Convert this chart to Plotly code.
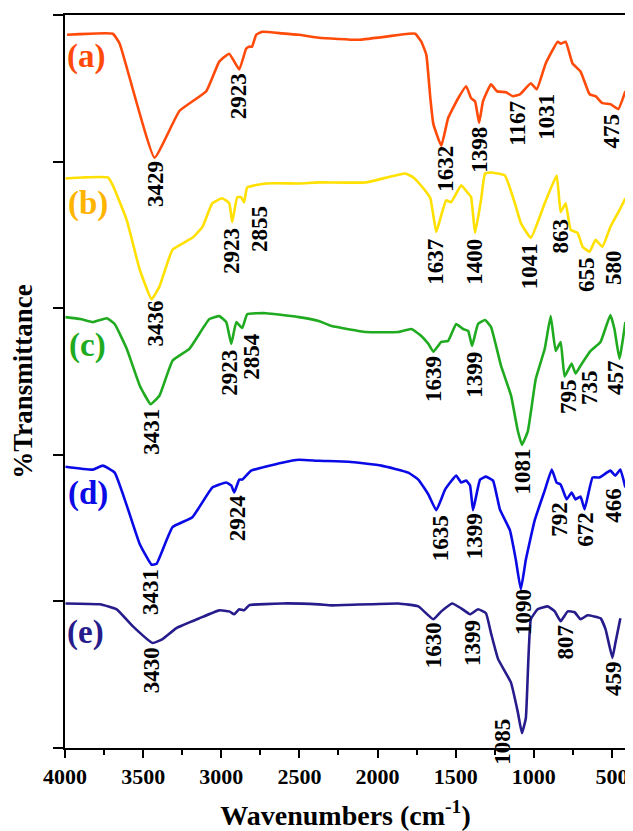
import plotly.graph_objects as go

# ---------------- data ----------------
wn_a = [3987, 3694, 3650, 3427, 3268, 3096, 3013, 2949, 2885, 2841, 2822, 2803, 2777, 2739, 2611, 2503, 2376,
        2121, 1803, 1758, 1720, 1688, 1662, 1643, 1592, 1548, 1484, 1433, 1401, 1376, 1350, 1325, 1274, 1236,
        1178, 1134, 1089, 1019, 981, 924, 847, 828, 796, 752, 701, 643, 605, 561, 510, 459, 414]
t_a = [486.5, 487.2, 480.4, 402.7, 434.5, 448.0, 468.2, 473.6, 462.8, 477.0, 478.4, 478.4, 486.5, 488.5, 487.5,
       486.5, 484.5, 483.1, 487.2, 487.2, 481.8, 473.0, 443.2, 425.7, 410.8, 429.7, 443.2, 451.4, 443.2, 441.2,
       426.4, 441.2, 452.7, 448.0, 447.3, 444.6, 445.9, 453.4, 449.3, 466.9, 481.8, 480.4, 481.8, 466.9, 461.5,
       445.9, 444.6, 439.9, 439.2, 435.8, 448.0]

wn_b = [3997, 3885, 3726, 3694, 3605, 3522, 3446, 3395, 3312, 3185, 3121, 3057, 2994, 2949, 2930, 2898, 2873,
        2854, 2834, 2713, 2503, 2376, 2076, 1822, 1771, 1707, 1662, 1624, 1592, 1561, 1529, 1465, 1420, 1401,
        1376, 1338, 1312, 1274, 1185, 1121, 1083, 1019, 930, 854, 828, 796, 764, 720, 688, 643, 605, 561, 510,
        452, 414]
t_b = [388.5, 389.2, 389.2, 383.8, 360.1, 326.4, 306.1, 314.9, 339.9, 348.0, 355.4, 371.6, 375.0, 371.6, 358.8,
       375.7, 375.7, 372.3, 382.4, 385.1, 385.1, 385.8, 385.8, 391.9, 389.2, 381.8, 375.0, 352.0, 363.5, 373.6,
       372.3, 383.8, 378.4, 375.7, 351.4, 373.6, 391.9, 392.6, 390.5, 371.6, 358.1, 348.0, 371.6, 390.5, 365.5,
       371.6, 353.4, 351.4, 341.9, 338.5, 346.6, 341.9, 355.4, 366.9, 375.0]

wn_c = [3997, 3901, 3822, 3732, 3682, 3605, 3522, 3452, 3395, 3312, 3204, 3076, 3013, 2968, 2936, 2904, 2866,
        2834, 2713, 2503, 2376, 2293, 2076, 1866, 1783, 1720, 1675, 1643, 1592, 1548, 1497, 1452, 1420, 1395,
        1357, 1312, 1274, 1210, 1146, 1102, 1076, 1038, 987, 930, 892, 860, 828, 803, 758, 733, 701, 637, 573,
        510, 484, 452, 414]
t_c = [293.9, 292.6, 290.5, 293.2, 289.2, 272.3, 247.3, 234.5, 240.5, 264.2, 272.3, 292.6, 294.6, 290.5, 275.7,
       290.5, 286.5, 295.9, 296.6, 293.9, 291.2, 287.8, 283.8, 283.8, 285.8, 281.1, 275.7, 270.3, 277.0, 277.7,
       289.2, 285.8, 284.5, 274.3, 289.2, 291.9, 287.2, 260.8, 240.5, 216.2, 206.8, 216.2, 252.0, 272.3, 294.6,
       270.9, 277.0, 253.4, 262.2, 255.4, 260.8, 270.9, 277.0, 295.3, 285.8, 265.5, 290.5]

wn_d = [3997, 3822, 3758, 3682, 3605, 3522, 3446, 3414, 3312, 3185, 3057, 2968, 2936, 2917, 2885, 2866, 2847,
        2809, 2611, 2503, 2376, 2185, 1975, 1803, 1739, 1675, 1624, 1567, 1497, 1465, 1433, 1408, 1389, 1344,
        1306, 1261, 1217, 1153, 1115, 1083, 1051, 994, 930, 885, 854, 828, 790, 758, 733, 701, 675, 624, 580,
        510, 478, 446, 414]
t_d = [191.9, 189.9, 192.6, 187.8, 165.5, 139.2, 125.0, 125.7, 150.7, 157.4, 177.7, 181.1, 179.1, 174.3, 183.1,
       183.1, 185.1, 189.2, 194.6, 196.6, 195.9, 195.3, 192.6, 187.8, 183.1, 173.0, 162.2, 176.4, 185.8, 181.1,
       182.4, 179.1, 162.2, 183.1, 185.1, 182.4, 162.8, 148.6, 128.4, 108.1, 128.4, 155.4, 175.7, 189.9, 181.1,
       179.7, 169.6, 174.3, 169.6, 171.6, 162.8, 184.5, 184.5, 189.2, 185.8, 189.9, 177.7]

wn_e = [3997, 3777, 3669, 3567, 3439, 3376, 3287, 3140, 3013, 2949, 2917, 2885, 2854, 2822, 2611, 2376, 2293,
        1866, 1739, 1643, 1592, 1522, 1465, 1408, 1357, 1306, 1274, 1229, 1146, 1102, 1076, 1051, 1019, 975,
        911, 866, 828, 783, 739, 701, 656, 573, 541, 497, 478, 446]
t_e = [98.6, 98.0, 94.6, 83.1, 71.6, 74.3, 81.8, 88.5, 93.9, 93.2, 91.2, 94.6, 93.9, 97.3, 98.6, 98.0, 97.3,
       98.6, 96.6, 87.8, 93.2, 98.6, 95.3, 91.2, 94.6, 91.9, 78.4, 60.8, 44.6, 24.3, 10.1, 20.3, 87.8, 94.6,
       96.6, 93.2, 86.5, 93.2, 92.6, 87.8, 90.5, 88.5, 81.1, 61.5, 71.6, 88.5]

series_names = ["(a)", "(b)", "(c)", "(d)", "(e)"]

# peak labels: (text, label wavenumber position, label level)
peaks_a = [("3429", 3420, 384.5), ("2923", 2892, 444.6), ("1632", 1567, 395.3), ("1398", 1344, 408.1),
           ("1167", 1102, 426.4), ("1031", 924, 430.4), ("475", 503, 420.9)]
peaks_b = [("3436", 3427, 289.2), ("2923", 2936, 339.2), ("2855", 2752, 354.1), ("1637", 1631, 331.8),
           ("1400", 1382, 331.8), ("1041", 1026, 328.4), ("863", 828, 349.3), ("655", 663, 323.0),
           ("580", 491, 327.7)]
peaks_c = [("3431", 3446, 215.5), ("2923", 2949, 256.1), ("2854", 2803, 266.9), ("1639", 1643, 252.0),
           ("1399", 1382, 254.7), ("1081", 1070, 188.5), ("795", 777, 239.9), ("735", 644, 245.9),
           ("457", 478, 252.7)]
peaks_d = [("3431", 3452, 106.1), ("2924", 2898, 156.8), ("1635", 1599, 143.2), ("1399", 1382, 144.6),
           ("1090", 1070, 92.6), ("792", 835, 156.1), ("672", 669, 149.3), ("466", 491, 165.5)]
peaks_e = [("3430", 3446, 52.7), ("1630", 1637, 70.3), ("1399", 1395, 71.6), ("1085", 1198, 4.1),
           ("807", 803, 72.3), ("459", 491, 47.3)]

name_pos = [(3866, 471.6), (3854, 371.6), (3854, 274.3), (3854, 173.6), (3866, 79.1)]

x_ticks = [4000, 3500, 3000, 2500, 2000, 1500, 1000, 500]
y_ticks = [0, 100, 200, 300, 400, 500]

# ---------------- styling ----------------
line_colors = ["#FF4A0A", "#FFE000", "#1FAA1F", "#0A0AE6", "#271C8C"]
name_colors = ["#FF4A0A", "#FFB400", "#1FAA1F", "#0A0AE6", "#271C8C"]
FONT = "Liberation Serif, Times New Roman, serif"

fig = go.Figure()
curves = [(wn_a, t_a), (wn_b, t_b), (wn_c, t_c), (wn_d, t_d), (wn_e, t_e)]
for (xs, ys), col, nm in zip(curves, line_colors, series_names):
    fig.add_trace(go.Scatter(x=xs, y=ys, mode="lines", name=nm,
                             line=dict(color=col, width=2.6, shape="spline", smoothing=0.35),
                             showlegend=False, hoverinfo="skip"))

annotations = []
for peaks in [peaks_a, peaks_b, peaks_c, peaks_d, peaks_e]:
    for txt, xp, yp in peaks:
        annotations.append(dict(x=xp, y=yp, xref="x", yref="y", text="<b>%s</b>" % txt,
                                showarrow=False, textangle=-90, xanchor="center", yanchor="middle",
                                font=dict(family=FONT, size=23, color="black")))
for nm, (xp, yp), col in zip(series_names, name_pos, name_colors):
    annotations.append(dict(x=xp, y=yp, xref="x", yref="y", text="<b>%s</b>" % nm,
                            showarrow=False, xanchor="center", yanchor="middle",
                            font=dict(family=FONT, size=33, color=col)))

# page body has an 8px margin, so the figure is sized/offset to land on the reference layout
fig.update_layout(
    width=625, height=823,
    margin=dict(l=57, r=5, t=5, b=78),
    paper_bgcolor="white", plot_bgcolor="white",
    annotations=annotations,
    font=dict(family=FONT, color="black"),
)
fig.update_xaxes(
    range=[4000, 410], tickvals=x_ticks, ticktext=["<b>%d</b>" % v for v in x_ticks],
    ticks="outside", ticklen=8, tickwidth=1.5, tickcolor="black",
    minor=dict(dtick=250, tick0=0, ticks="outside", ticklen=5, tickwidth=1.5, tickcolor="black"),
    showline=True, linecolor="black", linewidth=1.5, mirror=True,
    showgrid=False, zeroline=False,
    tickfont=dict(family=FONT, size=22, color="black"),
    title=dict(text="<b>Wavenumbers (cm<sup>-1</sup>)</b>", font=dict(family=FONT, size=28, color="black"),
               standoff=17),
)
fig.update_yaxes(
    range=[0, 500], tickvals=y_ticks, showticklabels=False,
    ticks="outside", ticklen=10, tickwidth=1.5, tickcolor="black",
    showline=True, linecolor="black", linewidth=1.5, mirror=True,
    showgrid=False, zeroline=False,
    title=dict(text="<b>%Transmittance</b>", font=dict(family=FONT, size=27, color="black"), standoff=13),
)

fig.write_html("out.html")
